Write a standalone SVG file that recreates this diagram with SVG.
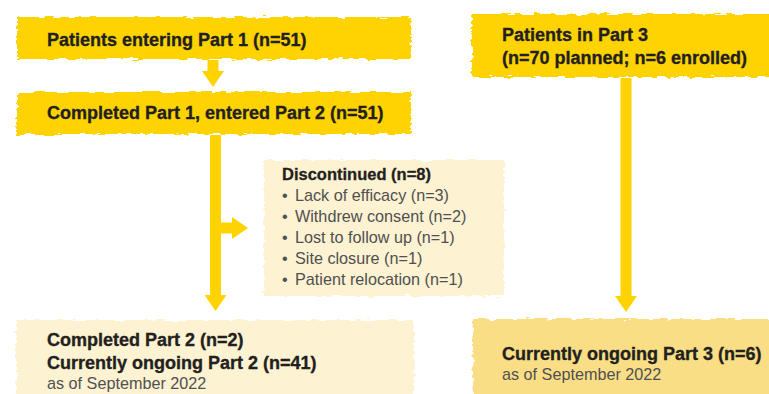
<svg xmlns="http://www.w3.org/2000/svg" width="769" height="394" viewBox="0 0 769 394">
<defs>
<filter id="rough" x="-5%" y="-10%" width="110%" height="120%">
<feTurbulence type="fractalNoise" baseFrequency="0.09 0.35" numOctaves="2" seed="3" result="n"/>
<feDisplacementMap in="SourceGraphic" in2="n" scale="6" xChannelSelector="R" yChannelSelector="G"/>
</filter>
<marker id="head" viewBox="0 0 16 22" refX="1" refY="11" markerWidth="16" markerHeight="22" markerUnits="userSpaceOnUse" orient="auto">
<path d="M0,0 L16,11 L0,22 Z" fill="#FFD300"/>
</marker>
<style>
.yel{fill:#FFD300;filter:url(#rough)}
.cream{fill:#FDF2D2;filter:url(#rough)}
.pale{fill:#F9DE86;filter:url(#rough)}
.b{font-family:"Liberation Sans",Arial,sans-serif;font-weight:700;font-size:18px;fill:#231F20;stroke:#231F20;stroke-width:0.35}
.bs{font-family:"Liberation Sans",Arial,sans-serif;font-weight:700;font-size:16.5px;fill:#231F20;stroke:#231F20;stroke-width:0.3}
.r{font-family:"Liberation Sans",Arial,sans-serif;font-size:16.2px;fill:#505050}
.con{stroke:#FFD300;stroke-width:11;fill:none;marker-end:url(#head)}
</style>
</defs>
<g id="connectors">
<path class="con" d="M213,60 V72"/>
<path class="con" d="M215.5,135 V296"/>
<path class="con" d="M221,228 H233"/>
<path class="con" d="M626,78 V297"/>
</g>
<g id="part1">
<rect class="yel" x="17" y="17" width="394" height="42"/>
<text class="b" x="47" y="46">Patients entering Part 1 (n=51)</text>
</g>
<g id="part2">
<rect class="yel" x="17" y="92" width="394" height="42"/>
<text class="b" x="47" y="119">Completed Part 1, entered Part 2 (n=51)</text>
</g>
<g id="part3">
<rect class="yel" x="472" y="14" width="300" height="63"/>
<text class="b" x="502" y="41">Patients in Part 3</text>
<text class="b" x="502" y="64">(n=70 planned; n=6 enrolled)</text>
</g>
<g id="discontinued">
<rect class="cream" x="264" y="160" width="240" height="136"/>
<text class="bs" x="282" y="180">Discontinued (n=8)</text>
<text class="r" x="282" y="201">•</text><text class="r" x="295" y="201">Lack of efficacy (n=3)</text>
<text class="r" x="282" y="222">•</text><text class="r" x="295" y="222">Withdrew consent (n=2)</text>
<text class="r" x="282" y="243">•</text><text class="r" x="295" y="243">Lost to follow up (n=1)</text>
<text class="r" x="282" y="264">•</text><text class="r" x="295" y="264">Site closure (n=1)</text>
<text class="r" x="282" y="285">•</text><text class="r" x="295" y="285">Patient relocation (n=1)</text>
</g>
<g id="ongoing2">
<rect class="cream" x="16" y="320" width="398" height="76"/>
<text class="b" x="47" y="346">Completed Part 2 (n=2)</text>
<text class="b" x="47" y="369">Currently ongoing Part 2 (n=41)</text>
<text class="r" x="47" y="389">as of September 2022</text>
</g>
<g id="ongoing3">
<rect class="pale" x="473" y="319" width="300" height="76"/>
<text class="b" x="502" y="360">Currently ongoing Part 3 (n=6)</text>
<text class="r" x="502" y="380">as of September 2022</text>
</g>
</svg>
